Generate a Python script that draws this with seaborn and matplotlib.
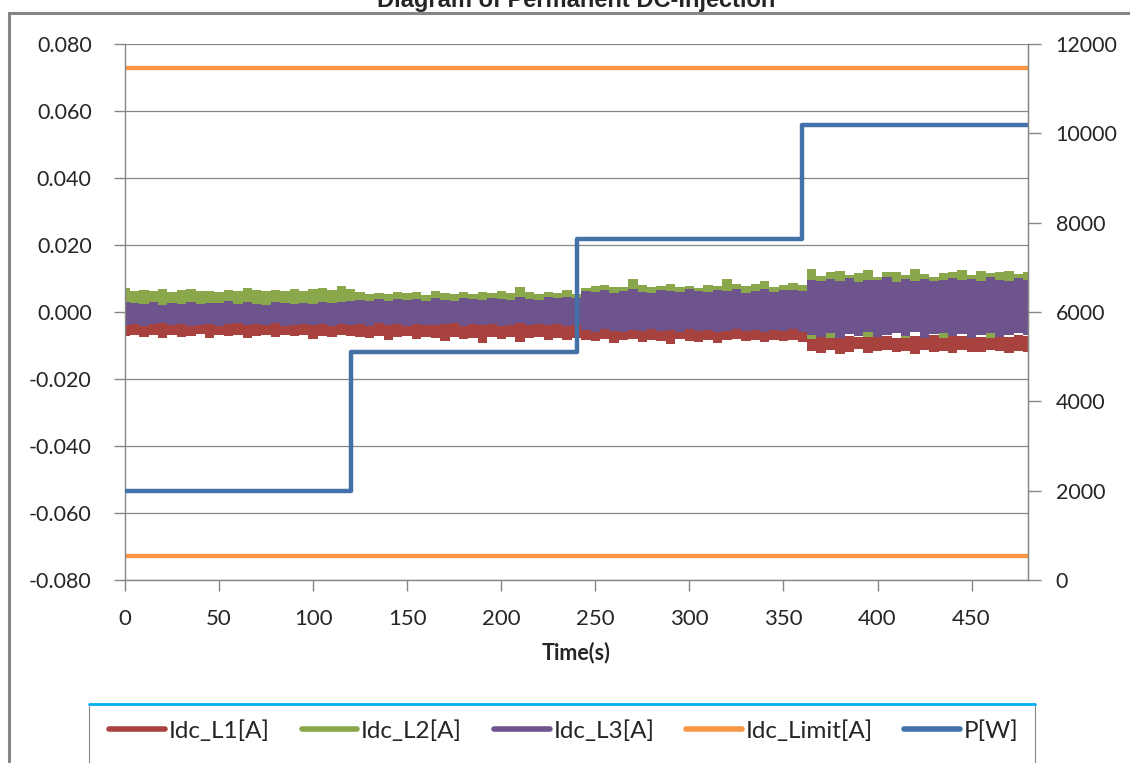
import numpy as np
import pandas as pd
import matplotlib
matplotlib.use("Agg")
import matplotlib.pyplot as plt
from matplotlib.lines import Line2D
from matplotlib.patches import Rectangle
import seaborn as sns

# ---- data ----
# sampled every 5 s, envelope of the noisy DC currents, in mA
t_env = np.arange(0, 481, 5)

l2_upper = [7.2, 6.4, 6.6, 6.3, 6.8, 6.1, 6.5, 6.9, 6.2, 6.4, 6.0, 6.6, 6.3, 7.1, 6.5, 6.2, 6.7, 6.4, 6.9, 6.3, 6.8, 7.3, 6.6, 7.8, 7.0,
            6.0, 5.4, 5.8, 5.3, 6.1, 5.6, 5.9, 5.2, 6.2, 5.7, 5.5, 6.0, 5.4, 5.9, 5.6, 6.3, 5.8, 7.6, 5.9, 5.5, 6.1, 5.7, 6.7, 5.4,
            7.2, 7.9, 8.0, 7.4, 7.6, 10.0, 8.1, 7.5, 7.8, 8.3, 7.6, 7.9, 7.3, 8.2, 7.7, 9.9, 8.4, 7.8, 8.3, 9.2, 7.6, 8.0, 8.6, 8.1,
            12.8, 10.6, 11.9, 12.3, 10.9, 11.6, 12.5, 10.4, 11.8, 12.0, 11.1, 12.9, 11.3, 10.5, 11.7, 11.9, 12.4, 11.0, 12.2, 11.5, 11.8, 12.1, 11.3, 12.0]
l2_lower = [-1.5, -1.2, -1.8, -1.4, -1.6, -1.3, -1.7, -1.5, -1.2, -1.6, -1.4, -1.8, -1.3, -1.5, -1.7, -1.2, -1.6, -1.4, -1.5, -1.3, -1.7, -1.4, -1.6, -1.5, -1.3,
            -1.6, -1.3, -1.7, -1.5, -1.2, -1.8, -1.4, -1.6, -1.3, -1.5, -1.7, -1.4, -1.6, -1.2, -1.5, -1.8, -1.3, -1.6, -1.4, -1.5, -1.7, -1.3, -1.6, -1.4,
            -3.2, -2.9, -3.4, -3.0, -3.3, -2.8, -3.1, -3.1, -3.3, -2.9, -3.2, -3.0, -3.4, -2.8, -3.1, -3.3, -2.9, -3.2, -3.0, -3.0, -3.4, -2.9, -3.1, -3.2,
            -8.0, -5.6, -7.9, -5.4, -5.8, -5.5, -7.6, -5.7, -5.3, -5.6, -7.8, -5.5, -5.9, -5.4, -7.7, -5.6, -5.3, -5.8, -5.5, -7.9, -5.6, -5.4, -5.7, -5.5]

l3_upper = [3.0, 2.6, 2.4, 2.9, 2.2, 2.7, 2.5, 3.1, 2.3, 2.8, 2.6, 3.3, 2.4, 2.9, 2.5, 2.2, 3.0, 2.6, 2.4, 2.8, 2.5, 3.0, 2.7, 2.9, 3.2,
            3.6, 3.2, 3.8, 3.4, 4.0, 3.5, 3.9, 3.3, 4.1, 3.7, 3.4, 4.2, 3.8, 3.5, 4.3, 3.9, 3.6, 4.4, 4.0, 3.7, 4.5, 4.1, 4.6, 4.3,
            6.4, 6.0, 6.6, 5.8, 6.2, 6.9, 6.1, 5.7, 6.5, 6.3, 5.9, 6.8, 6.2, 6.0, 6.6, 6.4, 6.9, 5.8, 6.3, 7.0, 6.1, 6.5, 6.7, 6.2,
            9.6, 9.2, 9.9, 9.4, 10.1, 9.0, 9.7, 9.5, 10.3, 9.1, 9.8, 9.4, 10.0, 9.3, 9.6, 10.2, 9.5, 9.9, 9.2, 10.4, 9.7, 9.4, 10.1, 9.6]
l3_lower = [-3.9, -3.5, -4.2, -3.7, -3.4, -4.0, -3.6, -4.3, -3.8, -3.5, -4.1, -3.7, -3.3, -4.0, -3.6, -3.9, -3.4, -4.2, -3.8, -3.5, -4.0, -3.7, -4.3, -3.6, -3.9,
            -3.6, -4.1, -3.4, -3.9, -3.7, -4.2, -3.5, -3.8, -4.0, -3.6, -3.3, -4.1, -3.7, -3.9, -3.5, -4.2, -3.8, -3.4, -4.0, -3.6, -3.9, -3.7, -4.1, -4.0,
            -5.4, -5.9, -5.1, -5.7, -6.0, -5.3, -5.6, -5.0, -5.8, -5.5, -6.1, -5.2, -5.7, -5.4, -5.9, -5.6, -5.1, -5.8, -5.3, -6.0, -5.5, -5.7, -5.2, -5.9,
            -6.8, -7.4, -6.2, -7.9, -6.6, -7.1, -6.0, -7.6, -6.9, -6.4, -7.3, -6.1, -7.7, -6.7, -6.3, -7.2, -6.5, -7.8, -6.8, -6.2, -7.5, -6.9, -6.4, -7.0]

l1_upper = [-3.1, -2.9, -3.3, -3.0, -2.8, -3.2, -3.0, -3.4, -2.9, -3.1, -3.0, -3.3, -2.8, -3.2, -3.0, -2.9, -3.1, -3.3, -3.0, -2.8, -3.2, -3.0, -3.4, -2.9, -3.1,
            -3.0, -3.2, -2.9, -3.1, -3.3, -3.0, -2.8, -3.2, -3.1, -2.9, -3.3, -3.0, -3.2, -2.9, -3.1, -3.0, -3.4, -2.9, -3.2, -3.0, -3.1, -2.8, -3.2, -3.0,
            -4.6, -4.3, -4.8, -4.4, -4.7, -4.2, -4.5, -4.9, -4.3, -4.6, -4.4, -4.8, -4.5, -4.2, -4.7, -4.4, -4.6, -4.3, -4.9, -4.5, -4.4, -4.7, -4.3, -4.6,
            -7.5, -7.0, -7.8, -6.8, -7.3, -7.6, -6.9, -7.4, -7.1, -7.7, -6.9, -7.2, -7.5, -7.0, -7.6, -6.8, -7.3, -7.1, -7.4, -6.9, -7.2, -7.6, -7.0, -7.3]
l1_lower = [-7.2, -6.8, -7.6, -7.0, -7.9, -6.9, -7.4, -7.1, -6.7, -7.8, -7.0, -7.3, -6.9, -7.7, -7.2, -6.8, -7.5, -7.0, -7.3, -6.9, -8.2, -7.1, -7.4, -6.8, -7.2,
            -7.4, -7.9, -7.2, -8.3, -7.6, -7.3, -8.1, -7.5, -7.8, -8.6, -7.4, -8.0, -7.7, -9.3, -7.6, -8.2, -7.5, -9.0, -7.9, -7.6, -8.3, -7.7, -8.5, -7.8,
            -8.3, -8.8, -8.1, -9.2, -8.5, -8.0, -8.9, -8.4, -8.7, -9.6, -8.2, -8.6, -8.9, -8.3, -9.4, -8.5, -8.1, -8.8, -8.4, -9.0, -8.3, -8.7, -8.5, -9.1,
            -11.6, -12.1, -11.3, -12.5, -11.8, -11.1, -12.3, -11.7, -11.4, -12.0, -11.6, -12.4, -11.2, -11.9, -11.5, -12.2, -11.3, -11.8, -12.0, -11.4, -11.7, -12.1, -11.5, -11.8]

limit_time = [0, 480]
limit_upper = [0.0727, 0.0727]
limit_lower = [-0.0727, -0.0727]

p_time = [0, 120, 240, 360, 480]
p_watt = [2000, 5100, 7630, 10190, 10190]

labels = ["Idc_L1[A]", "Idc_L2[A]", "Idc_L3[A]", "Idc_Limit[A]", "P[W]"]
colors = ["#A8423F", "#8AA74B", "#6D548C", "#F79646", "#4372AA"]

# ---- styling ----
sns.set_style("white")
plt.rcParams["font.family"] = ["Lato", "DejaVu Sans"]
plt.rcParams["axes.unicode_minus"] = False

grey = "#868686"
fig = plt.figure(figsize=(11.3, 7.63), dpi=100)
ax = fig.add_axes([125 / 1130, 1 - 580 / 763, (1028 - 125) / 1130, (580 - 44) / 763])

# noisy current bands
ma = 1000.0
ax.fill_between(t_env, np.array(l1_lower) / ma, np.array(l1_upper) / ma,
                step="mid", color=colors[0], lw=0)
ax.fill_between(t_env, np.array(l2_lower) / ma, np.array(l2_upper) / ma,
                step="mid", color=colors[1], lw=0)
ax.fill_between(t_env, np.array(l3_lower) / ma, np.array(l3_upper) / ma,
                step="mid", color=colors[2], lw=0)

sns.lineplot(x=limit_time, y=limit_upper, ax=ax, color=colors[3], lw=3.2)
sns.lineplot(x=limit_time, y=limit_lower, ax=ax, color=colors[3], lw=3.2)

ax.set_xlim(0, 480)
ax.set_ylim(-0.08, 0.08)
ax.set_xticks(range(0, 451, 50))
ax.set_yticks(np.arange(-0.08, 0.0801, 0.02))
ax.yaxis.set_major_formatter(matplotlib.ticker.FormatStrFormatter("%.3f"))
ax.grid(axis="y", color=grey, lw=0.9)
ax.set_axisbelow(True)
ax.spines["top"].set_visible(False)
for s in ["left", "bottom", "right"]:
    ax.spines[s].set_color(grey)
    ax.spines[s].set_linewidth(1)
ax.tick_params(axis="y", direction="out", length=8, color=grey, width=1,
               labelsize=15.5, pad=16, left=True)
ax.tick_params(axis="x", direction="out", length=8, color=grey, width=1,
               labelsize=16, pad=13, bottom=True)
ax.set_xlabel("Time(s)", fontsize=15.5, fontweight="bold", labelpad=9)
ax.set_ylabel("")

# power on the secondary axis
ax2 = ax.twinx()
sns.lineplot(x=p_time, y=p_watt, ax=ax2, color=colors[4], lw=3.2,
             drawstyle="steps-post")
ax2.set_ylim(0, 12000)
ax2.set_yticks(range(0, 12001, 2000))
ax2.set_ylabel("")
for s in ["top", "left", "bottom"]:
    ax2.spines[s].set_visible(False)
ax2.spines["right"].set_color(grey)
ax2.tick_params(axis="y", direction="out", length=9, color=grey, width=1,
                labelsize=15.5, pad=11, right=True)

# title, cut off by the top of the image
fig.text(576 / 1130, 1 - 7 / 763, "Diagram of Permanent DC-Injection",
         ha="center", va="baseline", fontsize=17, fontweight="bold",
         family="Liberation Sans")

# outer chart frame
fig.patches.append(Rectangle((9 / 1130, -0.1), 1.2, 1 - 13 / 763 + 0.1,
                             transform=fig.transFigure, fill=False,
                             edgecolor=grey, lw=2.2))

# legend box (bottom cut off)
fig.patches.append(Rectangle((89 / 1130, -0.1), (1035 - 89) / 1130, 1 - 704 / 763 + 0.1,
                             transform=fig.transFigure, fill=False,
                             edgecolor=grey, lw=0.8))
fig.lines.append(Line2D([89 / 1130, 1035 / 1130], [1 - 704 / 763] * 2,
                        transform=fig.transFigure, color="#00B0F0", lw=2))

handles = [Line2D([], [], color=c, lw=4) for c in colors]
fig.legend(handles, labels, loc="center", bbox_to_anchor=(564 / 1130, 1 - 731 / 763),
           ncol=5, frameon=False, fontsize=17.5, handlelength=2.3,
           handletextpad=0.15, columnspacing=1.3)

fig.savefig("out.png", dpi=100)
